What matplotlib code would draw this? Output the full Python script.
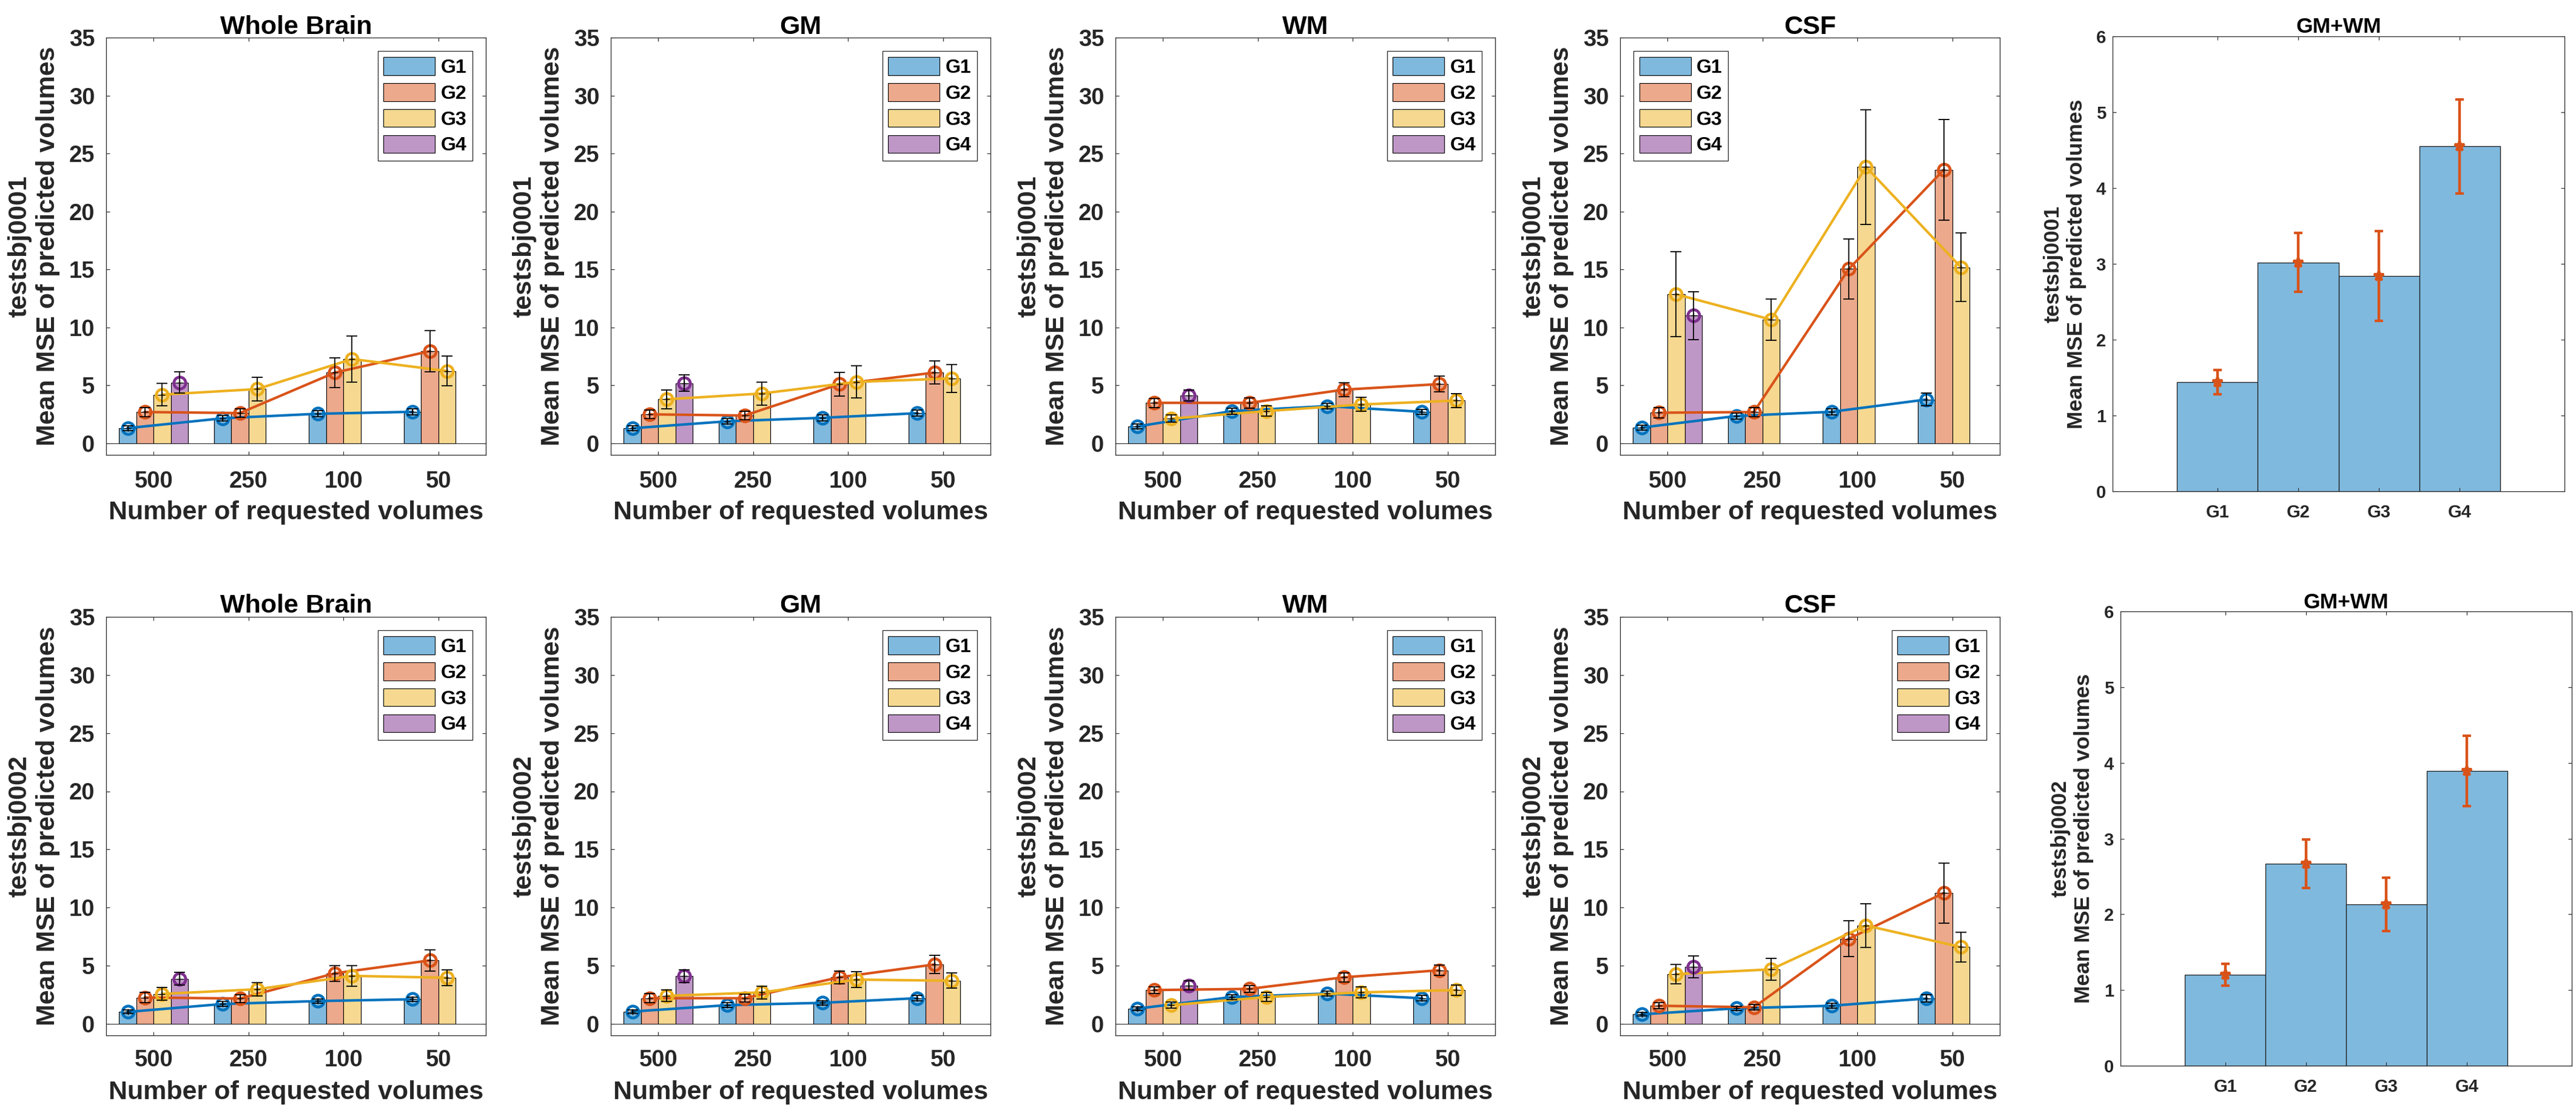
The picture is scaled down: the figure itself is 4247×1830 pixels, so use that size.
import numpy as np
import matplotlib
matplotlib.use('Agg')
import matplotlib.pyplot as plt
from matplotlib.colors import to_rgb

plt.rcParams['font.family'] = ['Liberation Sans', 'DejaVu Sans']
plt.rcParams['font.weight'] = 'bold'
plt.rcParams['axes.titleweight'] = 'bold'
plt.rcParams['axes.labelweight'] = 'bold'

nan = np.nan

# ---------------- data ----------------
volumes = ['500', '250', '100', '50']
groups = ['G1', 'G2', 'G3', 'G4']
regions = ['Whole Brain', 'GM', 'WM', 'CSF']
subjects = ['testsbj0001', 'testsbj0002']

# rows: G1..G4 ; columns: 500, 250, 100, 50 requested volumes
s1_wb_mean = [[1.31, 2.16, 2.55, 2.72], [2.70, 2.61, 6.10, 7.95], [4.20, 4.68, 7.27, 6.24], [5.25, nan, nan, nan]]
s1_wb_err = [[0.20, 0.25, 0.25, 0.25], [0.40, 0.38, 1.28, 1.80], [0.95, 1.02, 2.00, 1.28], [0.93, nan, nan, nan]]
s1_gm_mean = [[1.30, 1.90, 2.20, 2.60], [2.50, 2.40, 5.10, 6.10], [3.80, 4.30, 5.30, 5.60], [5.20, nan, nan, nan]]
s1_gm_err = [[0.20, 0.25, 0.25, 0.25], [0.35, 0.35, 1.00, 1.00], [0.80, 1.00, 1.40, 1.20], [0.70, nan, nan, nan]]
s1_wm_mean = [[1.45, 2.78, 3.21, 2.72], [3.49, 3.49, 4.63, 5.11], [2.13, 2.78, 3.35, 3.69], [4.12, nan, nan, nan]]
s1_wm_err = [[0.20, 0.25, 0.25, 0.20], [0.40, 0.45, 0.60, 0.68], [0.30, 0.45, 0.60, 0.62], [0.47, nan, nan, nan]]
s1_csf_mean = [[1.36, 2.36, 2.72, 3.78], [2.64, 2.70, 15.04, 23.59], [12.86, 10.67, 23.84, 15.19], [11.01, nan, nan, nan]]
s1_csf_err = [[0.20, 0.25, 0.25, 0.54], [0.45, 0.40, 2.57, 4.36], [3.65, 1.80, 4.95, 2.95], [2.07, nan, nan, nan]]

s2_wb_mean = [[1.02, 1.70, 1.95, 2.11], [2.26, 2.17, 4.34, 5.45], [2.57, 2.97, 4.12, 3.96], [3.87, nan, nan, nan]]
s2_wb_err = [[0.15, 0.20, 0.20, 0.20], [0.45, 0.35, 0.68, 0.90], [0.53, 0.57, 0.88, 0.68], [0.55, nan, nan, nan]]
s2_gm_mean = [[1.05, 1.60, 1.80, 2.20], [2.20, 2.20, 4.00, 5.10], [2.40, 2.70, 3.80, 3.70], [4.10, nan, nan, nan]]
s2_gm_err = [[0.15, 0.20, 0.20, 0.25], [0.40, 0.35, 0.55, 0.80], [0.50, 0.55, 0.70, 0.65], [0.55, nan, nan, nan]]
s2_wm_mean = [[1.30, 2.30, 2.60, 2.20], [2.90, 3.00, 4.00, 4.60], [1.60, 2.30, 2.70, 2.90], [3.30, nan, nan, nan]]
s2_wm_err = [[0.15, 0.20, 0.20, 0.25], [0.30, 0.30, 0.40, 0.45], [0.25, 0.40, 0.45, 0.45], [0.40, nan, nan, nan]]
s2_csf_mean = [[0.81, 1.33, 1.55, 2.17], [1.55, 1.42, 7.31, 11.24], [4.27, 4.68, 8.45, 6.60], [4.89, nan, nan, nan]]
s2_csf_err = [[0.15, 0.20, 0.20, 0.30], [0.25, 0.25, 1.55, 2.60], [0.84, 0.93, 1.86, 1.27], [0.93, nan, nan, nan]]

# GM+WM summary per group
s1_gmwm_mean = [1.44, 3.02, 2.84, 4.55]
s1_gmwm_err = [0.16, 0.385, 0.59, 0.62]
s2_gmwm_mean = [1.20, 2.67, 2.13, 3.89]
s2_gmwm_err = [0.145, 0.32, 0.355, 0.465]

panel_means = [[s1_wb_mean, s1_gm_mean, s1_wm_mean, s1_csf_mean],
               [s2_wb_mean, s2_gm_mean, s2_wm_mean, s2_csf_mean]]
panel_errs = [[s1_wb_err, s1_gm_err, s1_wm_err, s1_csf_err],
              [s2_wb_err, s2_gm_err, s2_wm_err, s2_csf_err]]
gmwm_means = [s1_gmwm_mean, s2_gmwm_mean]
gmwm_errs = [s1_gmwm_err, s2_gmwm_err]
legend_locs = [['upper right', 'upper right', 'upper right', 'upper left'],
               ['upper right', 'upper right', 'upper right', 'upper right']]

# ---------------- style ----------------
line_colors = ['#0072BD', '#D95319', '#EDB120', '#7E2F8E']
face_colors = [tuple(0.5 * np.array(to_rgb(c)) + 0.5) for c in line_colors]
axis_gray = (0.15, 0.15, 0.15)

W, H = 4247, 1830
fig = plt.figure(figsize=(W / 100, H / 100), dpi=100)


def add_axes_px(l, t, r, b):
    return fig.add_axes([l / W, 1 - b / H, (r - l) / W, (b - t) / H])


def style_axes(ax, tick_size, xpad, ypad):
    for s in ax.spines.values():
        s.set_color(axis_gray)
        s.set_linewidth(0.9)
    ax.tick_params(direction='in', top=True, right=True, length=4.3, width=0.8,
                   color=axis_gray, labelcolor=axis_gray, labelsize=tick_size)
    ax.tick_params(axis='x', pad=xpad)
    ax.tick_params(axis='y', pad=ypad)


col_lefts = [175, 1007, 1839, 2671]
col_width = 626
row_tb = [(62, 750), (1017, 1707)]
xpads = [18.5, 16.5]
title_pads = [4, 5]
xlabel_y = [-0.138, -0.136]

ngroups = 4
group_width = 0.727
bar_w = group_width / ngroups
x_base = np.arange(1, len(volumes) + 1)

for r in range(2):
    t, b = row_tb[r]
    for c in range(4):
        ax = add_axes_px(col_lefts[c], t, col_lefts[c] + col_width, b)
        means = panel_means[r][c]
        errs = panel_errs[r][c]
        bars = []
        for g in range(ngroups):
            m = np.array(means[g], dtype=float)
            e = np.array(errs[g], dtype=float)
            xg = x_base + (g - (ngroups - 1) / 2) * bar_w
            ok = ~np.isnan(m)
            bc = ax.bar(xg[ok], m[ok], width=bar_w, color=face_colors[g],
                        edgecolor='k', linewidth=0.8, label=groups[g], zorder=1)
            bars.append(bc)
            ax.plot(xg[ok], m[ok], '-o', color=line_colors[g], lw=3.0,
                    ms=14, mew=3.4, mfc='none', zorder=3)
            ax.errorbar(xg[ok], m[ok], yerr=e[ok], fmt='none', ecolor='k',
                        elinewidth=1.3, capsize=6.8, capthick=1.3, zorder=4)
            ax.plot(xg[ok], m[ok], '+', color='k', ms=7, mew=1.0, zorder=5)
        ax.axhline(0, color=axis_gray, lw=0.8, zorder=2)
        ax.set_xlim(0.5, 4.5)
        ax.set_ylim(-1, 35)
        ax.set_xticks(x_base)
        ax.set_xticklabels(volumes)
        ax.set_yticks(np.arange(0, 36, 5))
        style_axes(ax, 27.5, xpads[r], 13.5)
        ax.set_title(regions[c], fontsize=31, color='k', pad=title_pads[r])
        ax.set_xlabel('Number of requested volumes', fontsize=31, color=axis_gray, va='center')
        ax.xaxis.set_label_coords(0.5, xlabel_y[r])
        ax.set_ylabel(subjects[r] + '\nMean MSE of predicted volumes', fontsize=31,
                      color=axis_gray, va='center', ha='center', multialignment='center')
        ax.yaxis.set_label_coords(-0.191, 0.5)
        leg = ax.legend(handles=bars, labels=groups, loc=legend_locs[r][c],
                        prop={'size': 23, 'weight': 'bold'}, fancybox=False,
                        edgecolor=axis_gray, framealpha=1, borderpad=0.3,
                        labelspacing=0.32, handlelength=2.65, handleheight=1.05,
                        handletextpad=0.3, borderaxespad=0.7)
        leg.get_frame().set_linewidth(0.9)

# GM+WM panels
gmwm_boxes = [(3483, 60, 4228, 810), (3496, 1008, 4240, 1757)]
gmwm_title_pads = [4, 3.3]
gmwm_ylabel_x = [-0.106, -0.107]
xg = np.arange(1, len(groups) + 1)
for r in range(2):
    ax = add_axes_px(*gmwm_boxes[r])
    ax.bar(xg, gmwm_means[r], width=1.0, color=face_colors[0], edgecolor=(0.1, 0.1, 0.1),
           linewidth=0.9, zorder=1)
    ax.errorbar(xg, gmwm_means[r], yerr=gmwm_errs[r], fmt='*', color=line_colors[1],
                ecolor=line_colors[1], ms=12, mew=3.0, elinewidth=3.2, capsize=5.2,
                capthick=3.2, zorder=3)
    ax.set_xlim(-0.3, 5.3)
    ax.set_ylim(0, 6)
    ax.set_xticks(xg)
    ax.set_xticklabels(groups)
    ax.set_yticks(np.arange(0, 7, 1))
    style_axes(ax, 21, 15, 8)
    ax.set_title('GM+WM', fontsize=25.5, color='k', pad=gmwm_title_pads[r])
    ax.set_ylabel(subjects[r] + '\nMean MSE of predicted volumes', fontsize=25.5,
                  color=axis_gray, va='center', ha='center', multialignment='center')
    ax.yaxis.set_label_coords(gmwm_ylabel_x[r], 0.5)

fig.savefig('out.png', dpi=100, facecolor='white')
